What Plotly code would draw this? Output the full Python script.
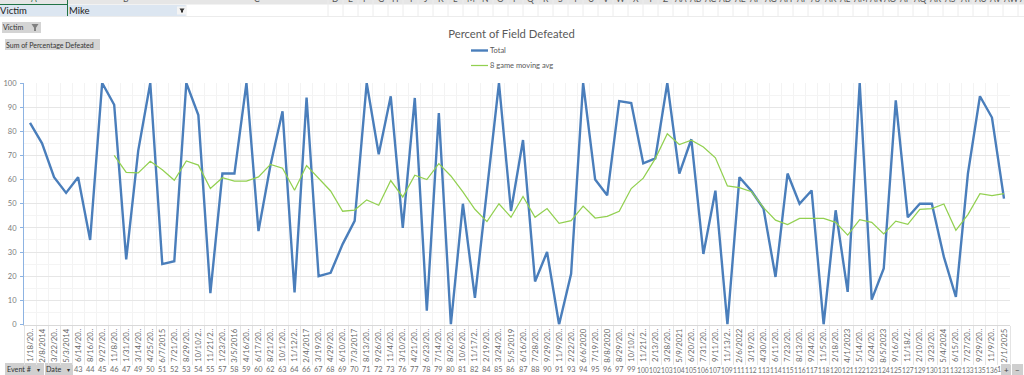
import plotly.graph_objects as go

dates = ["1/18/20..","2/8/2014","3/22/20..","5/3/2014","6/14/20..","8/16/20..","9/27/20..","11/8/20..","1/31/20..","3/14/20..",
"4/25/20..","6/7/2015","7/21/20..","8/29/20..","10/10/2..","11/21/2..","1/23/20..","3/5/2016","4/16/20..","6/17/20..",
"8/21/20..","10/1/20..","11/12/2..","2/4/2017","3/19/20..","4/29/20..","6/10/20..","7/3/2017","8/13/20..","9/26/20..",
"11/4/20..","3/10/20..","4/21/20..","6/23/20..","7/14/20..","8/26/20..","10/6/20..","11/17/2..","2/19/20..","3/24/20..",
"5/5/2019","6/16/20..","7/28/20..","9/29/20..","11/9/20..","2/22/20..","6/6/2020","7/19/20..","8/8/2020","8/29/20..",
"10/10/2..","11/21/2..","2/13/20..","3/28/20..","5/9/2021","6/20/20..","7/31/20..","9/11/20..","11/13/2..","2/6/2022",
"3/19/20..","4/30/20..","6/11/20..","7/23/20..","8/13/20..","9/24/20..","11/5/20..","2/18/20..","4/1/2023","5/14/20..",
"6/24/20..","8/5/2023","9/16/20..","11/18/2..","2/10/20..","3/23/20..","5/4/2024","6/15/20..","7/27/20..","9/29/20..",
"11/9/20..","2/1/2025"]

# Event numbers visible in the pivot row; the first four categories sit under the field buttons.
events = ["43","44","45","46","47","49","50","51","52","53","54","55","57","58","59","60","62","63","64","66",
"67","68","69","70","71","72","73","76","77","78","79","80","81","82","84","85","86","87","88","90",
"91","93","94","95","96","97","99","100","102","103","104","105","106","107","109","111","112","113","114","115",
"116","117","118","120","121","122","123","124","125","127","129","130","131","132","133","135","136","1"]

total = [83.5,75,61,54.5,61,35,100,91,27,72,100,25,26.2,100,86.7,13,62.5,62.5,100,38.7,
66,88.3,13.3,94,20,21.4,33.3,42.9,100,70.5,94.5,40,93.8,5.7,87.5,0,50,11,55.5,100,
47,76.4,17.8,30,0,21,100,60,53.5,92.5,91.7,66.7,68.8,100,62.5,76.7,29.2,55.4,0,61,
55.3,48,19.7,62.5,50,55.5,0,47.3,13.5,100,10.3,23.2,92.8,44.4,50,50,28,11.4,62.5,94.5,
85.7,52.1]

moving_avg = [None]*7 + [70,63,62.8,67.6,64.1,59.7,67.7,66,56.3,60.8,59.4,59.4,61.1,66.3,64.7,55.6,65.8,60.4,55.3,
46.9,47.4,51.6,49.4,59.6,52.8,61.8,60,66.6,61.5,54.9,47.7,42.6,50,44.4,53,44.4,48,41.9,43,
49,44.1,44.8,46.9,56.3,60.6,68.7,79,74.5,76.3,73.5,69,57.4,56.7,55,48.4,43.2,41.4,43.9,43.9,
43.9,42.3,37,43.4,42.3,37.5,42.8,41.5,47.7,48,49.9,39,45.5,54.2,53.4,54.2]

columns = ["D","E","F","G","H","I","J","K","L","M","N","O","P","Q","R","S","T","U","V","W","X","Y","Z",
"AA","AB","AC","AD","AE","AF","AG","AH","AI","AJ","AK","AL","AM","AN","AO","AP","AQ","AR","AS","AT","AU","AV","AW","AX"]

series_names = ["Total", "8 game moving avg"]
W, H = 1024, 375
FONT = "Lato, 'Open Sans', sans-serif"
BLUE, GREEN = "#4a7ebb", "#92d050"
px = lambda v: v / W
py = lambda v: 1 - v / H
idx = list(range(len(dates)))

fig = go.Figure()
fig.add_trace(go.Scatter(x=idx, y=total, mode="lines", name=series_names[0],
                         line=dict(color=BLUE, width=2.4), hoverinfo="skip"))
fig.add_trace(go.Scatter(x=idx, y=moving_avg, mode="lines", name=series_names[1],
                         line=dict(color=GREEN, width=1.25), hoverinfo="skip"))

shapes, notes = [], []

def rect(x0, y0, x1, y1, fill):
    shapes.append(dict(type="rect", xref="paper", yref="paper", layer="below",
                       x0=px(x0), x1=px(x1), y0=py(y0), y1=py(y1), fillcolor=fill, line=dict(width=0)))

def seg(x0, y0, x1, y1, color, width=1):
    shapes.append(dict(type="line", xref="paper", yref="paper", layer="below",
                       x0=px(x0), x1=px(x1), y0=py(y0), y1=py(y1), line=dict(color=color, width=width)))

def funnel(cx, top, w, h, color):
    pts = [(cx - w / 2, top), (cx + w / 2, top), (cx + 1, top + h * 0.55), (cx + 1, top + h),
           (cx - 1, top + h), (cx - 1, top + h * 0.55)]
    path = "M " + " L ".join(f"{px(a):.5f},{py(b):.5f}" for a, b in pts) + " Z"
    shapes.append(dict(type="path", xref="paper", yref="paper", path=path, fillcolor=color, line=dict(width=0)))

def text(x, y, s, size=9, color="#404040", anchor="left"):
    notes.append(dict(text=s, x=px(x), y=py(y), xref="paper", yref="paper", showarrow=False,
                      xanchor=anchor, yanchor="middle", font=dict(family=FONT, size=size, color=color),
                      borderpad=0, borderwidth=0))

# Spreadsheet header rows
rect(0, 0, W, 4.5, "#e6e6e6")
seg(0, 4.5, 67, 4.5, "#217346", 1)
rect(0, 5, 67, 16, "#dce6f1")
rect(68, 5, 186, 16, "#dce6f1")
seg(67.5, 0, 67.5, 16, "#217346", 1)
seg(0, 16.5, W, 16.5, "#ececec", 1)
seg(186, 5, 186, 16, "#ececec")
seg(328, 0, 328, 16, "#ececec")
for k, c in enumerate(columns):
    xl = 328 + 15 * k
    seg(xl + 15, 0, xl + 15, 16, "#ececec")
    text(xl + 7.5, -1, c, size=8.5, color="#555555", anchor="center")
text(126, -1, "B", size=8.5, color="#555555", anchor="center")
text(257, -1, "C", size=8.5, color="#555555", anchor="center")
text(34, -1, "A", size=8.5, color="#2a6a45", anchor="center")
text(0, 11, "Victim", size=9.5, color="#222222")
text(69, 11, "Mike", size=9.5, color="#222222")
rect(177, 6.5, 186, 14.5, "#f4f4f4")
funnel(182, 8.5, 5, 4, "#333333")

# Pivot field buttons
rect(2, 22, 41, 33, "#d4d4d4")
text(3, 27.5, "Victim", size=7.2, color="#333333")
funnel(35, 24, 7, 7, "#808080")
rect(5, 39, 100, 50, "#d4d4d4")
text(6, 44.5, "Sum of Percentage Defeated", size=7, color="#333333")
rect(5, 363, 44, 375, "#d0d0d0")
rect(45, 363, 73, 375, "#d0d0d0")
text(7, 369.5, "Event #", size=7.2, color="#333333")
text(38, 369.5, "▾", size=6, color="#333333", anchor="center")
text(46, 369.5, "Date", size=7.2, color="#333333")
text(68, 369.5, "▾", size=6, color="#333333", anchor="center")
rect(1001, 364, 1011, 375, "#cfcfcf")
rect(1012, 364, 1023, 375, "#cfcfcf")
text(1006.5, 369.5, "+", size=8, color="#444444", anchor="center")
text(1017.5, 369.5, "−", size=8, color="#444444", anchor="center")

# Legend, drawn to its exact size and spacing
seg(471, 50.5, 488, 50.5, BLUE, 2.4)
seg(471, 65.5, 488, 65.5, GREEN, 1.25)
text(490, 50.5, series_names[0], size=7.5, color="#595959")
text(490, 65.5, series_names[1], size=7.5, color="#595959")

# Event number row, aligned with the categories after the field buttons.
# The last number is cut by the zoom buttons, so only its first digit shows, left of centre.
for i, e in zip(idx[4:], events):
    notes.append(dict(text=e, x=i, y=py(369.5), xref="x", yref="paper", showarrow=False,
                      xanchor="center", yanchor="middle", xshift=-4.5 if len(e) == 1 else 0,
                      font=dict(family=FONT, size=6.7 if len(e) == 3 else 7.4, color="#6f6f6f")))

fig.update_layout(
    width=W, height=H, margin=dict(l=0, r=0, t=0, b=0, autoexpand=False),
    paper_bgcolor="white", plot_bgcolor="white", font=dict(family=FONT),
    title=dict(text="Percent of Field Defeated", x=511.5 / W, xanchor="center", y=py(34), yanchor="middle",
               font=dict(family=FONT, size=11.3, color="#595959")),
    showlegend=False,
    shapes=shapes, annotations=notes,
    xaxis=dict(domain=[px(24), px(1010)], range=[-0.5, 81.5], showgrid=False, zeroline=False,
               showline=True, linecolor="#d9d9d9", linewidth=1,
               tickmode="array", tickvals=idx, ticktext=dates, tickangle=-90, ticks="", ticklen=0,
               tickfont=dict(family=FONT, size=7.8, color="#666666"), automargin=False,
               minor=dict(tickmode="linear", tick0=-0.5, dtick=1, showgrid=True, gridcolor="#f3f3f3", gridwidth=1,
                          ticks="outside", ticklen=39, tickcolor="#e4e4e4", tickwidth=1)),
    yaxis=dict(domain=[py(324.5), py(83)], range=[0, 100], zeroline=False, automargin=False,
               tickmode="linear", tick0=0, dtick=10, gridcolor="#e6e6e6", gridwidth=1,
               showline=True, linecolor="#8db3e2", linewidth=1, ticks="outside", ticklen=3, tickcolor="#8db3e2",
               ticklabelstandoff=2,
               tickfont=dict(family=FONT, size=7.5, color="#7a7a7a"),
               minor=dict(tickmode="linear", tick0=0, dtick=5, showgrid=True, gridcolor="#f4f4f4", gridwidth=1)),
)
fig.write_html("out.html", config=dict(displayModeBar=False, responsive=False),
               post_script="document.body.style.margin='0';document.body.style.overflow='hidden';")
